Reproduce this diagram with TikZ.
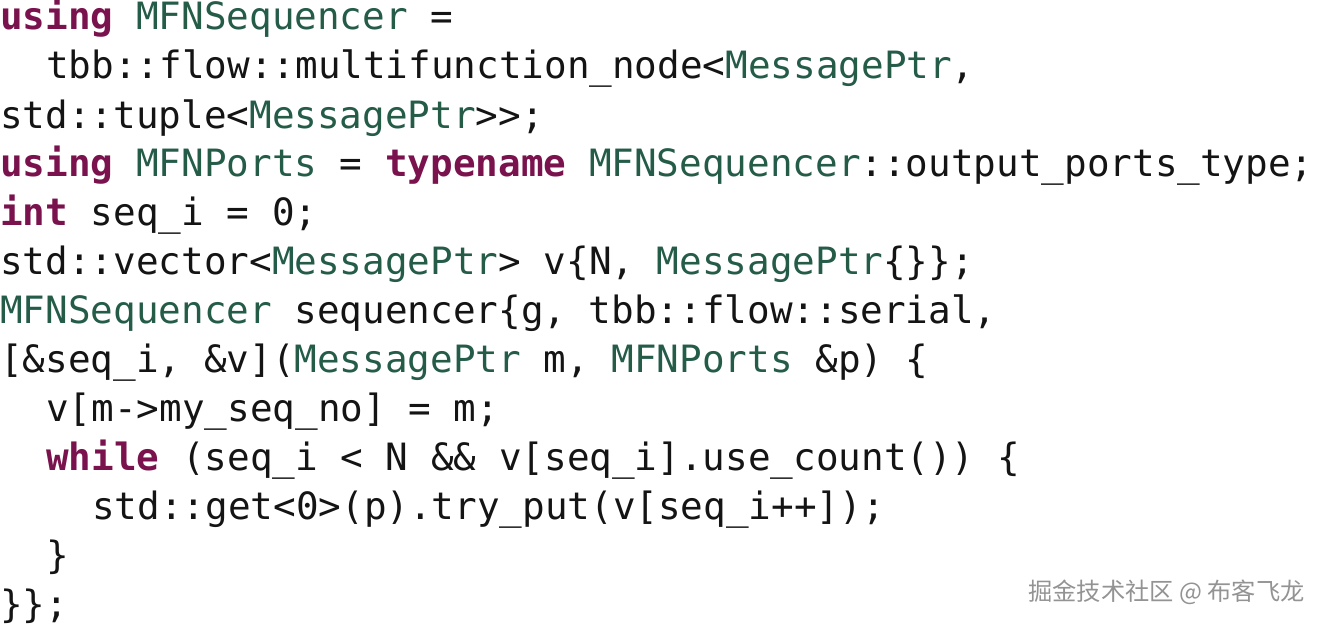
\documentclass[tikz,border=0pt]{standalone}
\usepackage{fontspec}
\setmonofont{DejaVu Sans Mono}
\newfontfamily\cjk{Noto Sans CJK SC}
\definecolor{kwcol}{RGB}{122,18,78}
\definecolor{tycol}{RGB}{36,92,72}
\definecolor{txcol}{RGB}{20,20,20}
\newcommand{\kw}[1]{\textcolor{kwcol}{\textbf{#1}}}
\newcommand{\ty}[1]{\textcolor{tycol}{#1}}

\begin{document}
\begin{tikzpicture}[codeline/.style={anchor=base west,inner sep=0pt,text=txcol,
      font=\ttfamily\fontsize{21.4pt}{24pt}\selectfont}]
            \useasboundingbox (0,0) rectangle (26.5,-12.5);
            % code lines, 0.978cm apart
            \node[codeline] (l1) at (0,-0.60){\kw{using} \ty{MFNSequencer} =};
            \node[codeline] (l2) at (0.92,-1.58){tbb::flow::multifunction\_node<\ty{MessagePtr},};
            \node[codeline] (l3) at (0,-2.56){std::tuple<\ty{MessagePtr}>>;};
            \node[codeline] (l4) at (0,-3.53){\kw{using} \ty{MFNPorts} = \kw{typename} \ty{MFNSequencer}::output\_ports\_type;};
            \node[codeline] (l5) at (0,-4.51){\kw{int} seq\_i = 0;};
            \node[codeline] (l6) at (0,-5.49){std::vector<\ty{MessagePtr}> v\{N, \ty{MessagePtr}\{\}\};};
            \node[codeline] (l7) at (0,-6.47){\ty{MFNSequencer} sequencer\{g, tbb::flow::serial,};
            \node[codeline] (l8) at (0,-7.45){[\&seq\_i, \&v](\ty{MessagePtr} m, \ty{MFNPorts} \&p) \{};
            \node[codeline] (l9) at (0.92,-8.42){v[m->my\_seq\_no] = m;};
            \node[codeline] (l10) at (0.92,-9.40){\kw{while} (seq\_i < N \&\& v[seq\_i].use\_count()) \{};
            \node[codeline] (l11) at (1.84,-10.38){std::get<0>(p).try\_put(v[seq\_i++]);};
            \node[codeline] (l12) at (0.92,-11.36){\}};
            \node[codeline] (l13) at (0,-12.34){\}\};};
            % watermark
            \node[anchor=east,inner sep=0pt,text=gray!85,font=\cjk\fontsize{13.8pt}{15pt}\selectfont]
              (mark) at (26.1,-11.84){掘金技术社区 @ 布客飞龙};
\end{tikzpicture}
\end{document}
